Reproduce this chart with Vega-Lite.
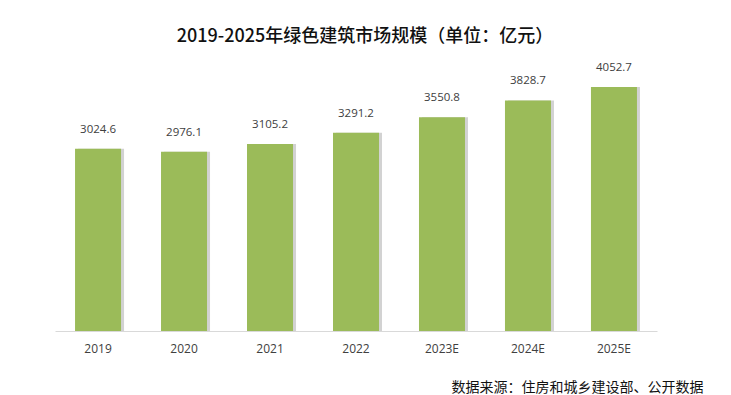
{
  "$schema": "https://vega.github.io/schema/vega-lite/v6.json",
  "autosize": "none",
  "width": 602,
  "height": 271,
  "padding": {"left": 55, "top": 60, "right": 74, "bottom": 64},
  "background": "white",
  "title": {
    "text": "2019-2025年绿色建筑市场规模（单位：亿元）",
    "font": "Noto Sans CJK SC",
    "fontSize": 18,
    "fontWeight": 500,
    "color": "#111111",
    "anchor": "middle",
    "dx": 9,
    "offset": 14
  },
  "config": {
    "view": {"stroke": null},
    "font": "Noto Sans CJK SC"
  },
  "data": {
    "values": [
      {"year": "2019", "value": 3024.6},
      {"year": "2020", "value": 2976.1},
      {"year": "2021", "value": 3105.2},
      {"year": "2022", "value": 3291.2},
      {"year": "2023E", "value": 3550.8},
      {"year": "2024E", "value": 3828.7},
      {"year": "2025E", "value": 4052.7}
    ]
  },
  "encoding": {
    "x": {
      "field": "year",
      "type": "nominal",
      "sort": null,
      "scale": {"paddingInner": 0.465, "paddingOuter": 0.233},
      "axis": {
        "title": "数据来源：住房和城乡建设部、公开数据",
        "titleFont": "Noto Sans CJK SC",
        "titleFontSize": 14,
        "titleFontWeight": "normal",
        "titleColor": "#111111",
        "titleAnchor": "end",
        "titleAlign": "right",
        "titleX": 648,
        "titleY": 49,
        "labelAngle": 0,
        "labelFont": "Open Sans",
        "labelFontSize": 12,
        "labelColor": "#404040",
        "labelPadding": 12,
        "domainColor": "#d9d9d9",
        "domainWidth": 1,
        "ticks": false
      }
    },
    "y": {
      "field": "value",
      "type": "quantitative",
      "scale": {"domain": [0, 4500], "nice": false},
      "axis": null
    }
  },
  "layer": [
    {
      "mark": {"type": "bar", "color": "#7f7f7f", "opacity": 0.35, "xOffset": 3, "y2": 271}
    },
    {
      "mark": {"type": "bar", "color": "#9bbb59"}
    },
    {
      "mark": {"type": "text", "dy": -14, "font": "Open Sans", "fontSize": 11.5, "color": "#404040", "baseline": "bottom"},
      "encoding": {"text": {"field": "value", "type": "quantitative", "format": ".1f"}}
    }
  ]
}
